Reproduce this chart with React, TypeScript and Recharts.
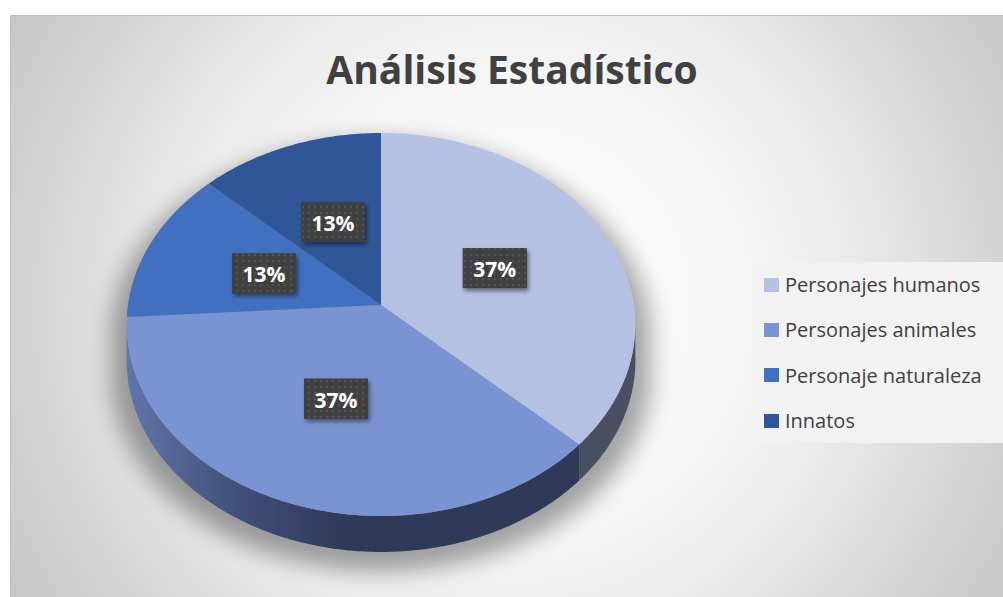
import React from 'react';
import { PieChart, Pie, Cell, Legend } from 'recharts';

// ---- data ----
const categories = ['Personajes humanos', 'Personajes animales', 'Personaje naturaleza', 'Innatos'];
const values = [37, 37, 13, 13];
const title = 'Análisis Estadístico';

// ---- styles ----
const topColors = ['#b4c1e3', '#7a93d2', '#4270c0', '#2f5698'];
const sideColors = ['#474f60', 'url(#sideGradAnimales)', '#2c4270', '#22345c'];

const data = categories.map((name, i) => ({ name, value: values[i] }));

const W = 1003;
const H = 597;
const PIE_CX = 381;
const PIE_CY = 305;
const PIE_R = 253;
const TILT = 0.749;
const PERSP = 0.1018;
const DEPTH = 36;
const FONT = '"Open Sans", "DejaVu Sans", sans-serif';

function proj(cx: number, cy: number, r: number, theta: number, f = 1): [number, number] {
  const t = (theta * Math.PI) / 180;
  const u = f * Math.sin(t);
  const v = -f * Math.cos(t);
  const den = 1 - PERSP * v;
  return [cx + (r * u) / den, cy + (r * TILT * v) / den];
}

function arcPts(cx: number, cy: number, r: number, a: number, b: number, dy = 0): [number, number][] {
  const pts: [number, number][] = [];
  const n = Math.max(2, Math.ceil(Math.abs(b - a) * 2));
  for (let i = 0; i <= n; i++) {
    const [x, y] = proj(cx, cy, r, a + ((b - a) * i) / n);
    pts.push([x, y + dy]);
  }
  return pts;
}

const toPath = (pts: [number, number][]) =>
  pts.map((p, i) => `${i === 0 ? 'M' : 'L'}${p[0].toFixed(2)},${p[1].toFixed(2)}`).join(' ');

const SIL_L = (Math.acos(-PERSP) * 180) / Math.PI;
const SIL_R = 360 - SIL_L;

const PieSlice = (props: any) => {
  const { cx, cy, outerRadius, startAngle, endAngle, name, fill } = props;
  const idx = categories.indexOf(name ?? props.payload?.name);
  const t1 = 90 - startAngle;
  const t2 = 90 - endAngle;
  const a = Math.min(t1, t2);
  const b = Math.max(t1, t2);
  const top = arcPts(cx, cy, outerRadius, a, b);
  const topPath = `M${cx},${cy} ` + toPath(top).replace(/^M/, 'L') + ' Z';
  const sa = Math.max(a, SIL_L);
  const sb = Math.min(b, SIL_R);
  let sidePath: string | null = null;
  if (sb > sa) {
    const upper = arcPts(cx, cy, outerRadius, sa, sb);
    const lower = arcPts(cx, cy, outerRadius, sa, sb, DEPTH).reverse();
    sidePath = toPath([...upper, ...lower]) + ' Z';
  }
  let shadow = null;
  if (idx === 0) {
    const outline = [
      ...arcPts(cx, cy, outerRadius, SIL_L, SIL_R, DEPTH),
      ...arcPts(cx, cy, outerRadius, SIL_R, SIL_L + 360),
    ];
    shadow = (
      <g>
        <defs>
          <filter id="pieShadowBlur" x="-20%" y="-20%" width="140%" height="140%">
            <feGaussianBlur stdDeviation="11" />
          </filter>
          <linearGradient id="sideGradAnimales" gradientUnits="userSpaceOnUse" x1={cx - outerRadius} y1={0} x2={cx - 40} y2={0}>
            <stop offset="0%" stopColor="#6075a8" />
            <stop offset="55%" stopColor="#3f4d78" />
            <stop offset="100%" stopColor="#2f3a58" />
          </linearGradient>
          <pattern id="lblDots" width="6" height="6" patternUnits="userSpaceOnUse">
            <rect width="6" height="6" fill="#404040" />
            <circle cx="3" cy="3" r="0.9" fill="#5c5c5c" />
          </pattern>
          <filter id="lblShadow" x="-30%" y="-30%" width="170%" height="180%">
            <feDropShadow dx="2" dy="3" stdDeviation="2" floodColor="#000" floodOpacity="0.45" />
          </filter>
        </defs>
        <path
          d={toPath(outline) + ' Z'}
          fill="#000"
          opacity={0.34}
          filter="url(#pieShadowBlur)"
          transform={`translate(${cx},${cy + 12}) scale(1.06,1.03) translate(${-cx},${-cy})`}
        />
      </g>
    );
  }
  return (
    <g>
      {shadow}
      {sidePath && <path d={sidePath} fill={sideColors[idx] ?? fill} stroke="none" />}
      <path d={topPath} fill={topColors[idx] ?? fill} stroke="none" />
    </g>
  );
};

const renderLabel = (props: any) => {
  const { cx, cy, outerRadius, midAngle, percent } = props;
  const [x, y] = proj(cx, cy, outerRadius, 90 - midAngle, 0.5);
  const txt = `${Math.round(percent * 100)}%`;
  return (
    <g>
      <rect x={x - 32} y={y - 20} width={64} height={40} fill="#404040" filter="url(#lblShadow)" />
      <rect x={x - 32} y={y - 20} width={64} height={40} fill="url(#lblDots)" />
      <text
        x={x}
        y={y + 1}
        textAnchor="middle"
        dominantBaseline="central"
        fill="#ffffff"
        fontSize={21}
        fontWeight={700}
        fontFamily={FONT}
      >
        {txt}
      </text>
    </g>
  );
};

const renderLegend = (props: any) => {
  const payload = [...(props.payload || [])].sort(
    (p: any, q: any) => categories.indexOf(p.value) - categories.indexOf(q.value)
  );
  return (
    <div style={{ background: '#f2f2f2', width: 251, height: 181, boxSizing: 'border-box', paddingTop: 0 }}>
      {payload.map((e: any, i: number) => (
        <div key={i} style={{ display: 'flex', alignItems: 'center', height: 45.3 }}>
          <span style={{ display: 'inline-block', width: 15, height: 14, background: e.color, marginLeft: 12, marginRight: 6 }} />
          <span style={{ fontFamily: FONT, fontSize: 20, color: '#404040', whiteSpace: 'nowrap' }}>{e.value}</span>
        </div>
      ))}
    </div>
  );
};

export default function App() {
  return (
    <div style={{ position: 'absolute', left: 0, top: 0, width: W, height: H, overflow: 'hidden', background: '#fff' }}>
      <div
        style={{
          position: 'absolute',
          left: 10,
          top: 15,
          width: W,
          height: 600,
          borderTop: '1px solid #bdbdbd',
          borderLeft: '1px solid #bdbdbd',
          background:
            'radial-gradient(circle at 50% 48%, #ffffff 0px, #f6f6f6 220px, #ececec 330px, #d6d6d6 470px, #c6c6c6 580px, #c0c0c0 700px)',
        }}
      />
      <div style={{ position: 'absolute', left: 0, top: 0 }}>
        <PieChart width={W} height={H} margin={{ top: 0, right: 0, bottom: 0, left: 0 }}>
          <Pie
            data={data}
            dataKey="value"
            nameKey="name"
            cx={PIE_CX}
            cy={PIE_CY}
            outerRadius={PIE_R}
            startAngle={90}
            endAngle={-270}
            stroke="none"
            isAnimationActive={false}
            shape={PieSlice}
            activeShape={PieSlice}
            inactiveShape={PieSlice}
            label={renderLabel}
            labelLine={false}
          >
            {data.map((d, i) => (
              <Cell key={d.name} fill={topColors[i]} />
            ))}
          </Pie>
          <Legend
            layout="vertical"
            align="right"
            verticalAlign="middle"
            content={renderLegend}
            wrapperStyle={{ position: 'absolute', left: 752, top: 262, right: 'auto', bottom: 'auto', width: 251, height: 181 }}
          />
        </PieChart>
      </div>
      <svg width={W} height={H} style={{ position: 'absolute', left: 0, top: 0, pointerEvents: 'none' }}>
        <text x={512} y={84} textAnchor="middle" fontSize={39} fontWeight={700} fill="#404040" fontFamily={FONT}>
          {title}
        </text>
      </svg>
    </div>
  );
}
